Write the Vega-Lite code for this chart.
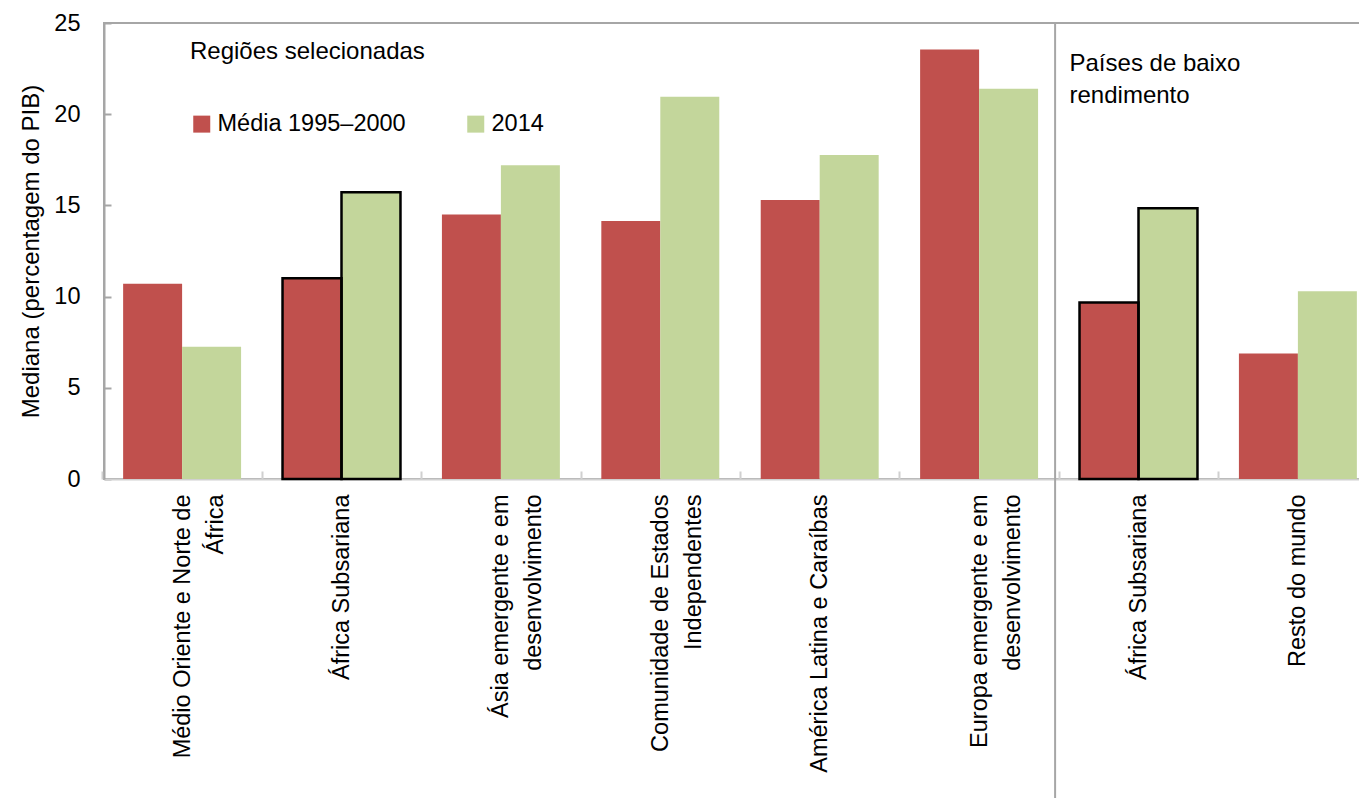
{
  "$schema": "https://vega.github.io/schema/vega-lite/v6.json",
  "width": 1257,
  "height": 456,
  "autosize": {"type": "none"},
  "padding": {"left": 104, "top": 23, "right": 0, "bottom": 319},
  "config": {
    "font": "Liberation Sans",
    "view": {"stroke": "#a6a6a6", "strokeWidth": 2}
  },
  "datasets": {
    "bars": [
      {"cat": "Médio Oriente e Norte de|África", "series": "Média 1995–2000", "value": 10.7},
      {"cat": "Médio Oriente e Norte de|África", "series": "2014", "value": 7.25},
      {"cat": "África Subsariana", "series": "Média 1995–2000", "value": 11.0},
      {"cat": "África Subsariana", "series": "2014", "value": 15.72},
      {"cat": "Ásia emergente e em|desenvolvimento", "series": "Média 1995–2000", "value": 14.5},
      {"cat": "Ásia emergente e em|desenvolvimento", "series": "2014", "value": 17.2},
      {"cat": "Comunidade de Estados|Independentes", "series": "Média 1995–2000", "value": 14.15},
      {"cat": "Comunidade de Estados|Independentes", "series": "2014", "value": 20.95},
      {"cat": "América Latina e Caraíbas", "series": "Média 1995–2000", "value": 15.3},
      {"cat": "América Latina e Caraíbas", "series": "2014", "value": 17.77},
      {"cat": "Europa emergente e em|desenvolvimento", "series": "Média 1995–2000", "value": 23.55},
      {"cat": "Europa emergente e em|desenvolvimento", "series": "2014", "value": 21.4},
      {"cat": "África Subsariana ", "series": "Média 1995–2000", "value": 9.68},
      {"cat": "África Subsariana ", "series": "2014", "value": 14.85},
      {"cat": "Resto do mundo", "series": "Média 1995–2000", "value": 6.88},
      {"cat": "Resto do mundo", "series": "2014", "value": 10.3}
    ],
    "note": [
      {"cat": "África Subsariana ", "label": "Países de baixo\nrendimento"}
    ]
  },
  "layer": [
    {
      "data": {"name": "bars"},
      "mark": {"type": "bar"},
      "encoding": {
        "x": {
          "field": "cat",
          "type": "nominal",
          "scale": {
            "domain": [
              "Médio Oriente e Norte de|África",
              "África Subsariana",
              "Ásia emergente e em|desenvolvimento",
              "Comunidade de Estados|Independentes",
              "América Latina e Caraíbas",
              "Europa emergente e em|desenvolvimento",
              "África Subsariana ",
              "Resto do mundo"
            ],
            "range": [0, 1272],
            "paddingInner": 0.26,
            "paddingOuter": 0.12
          },
          "axis": {
            "title": null,
            "labelAngle": -90,
            "labelAlign": "right",
            "labelBaseline": "middle",
            "labelExpr": "split(datum.label, '|')",
            "labelFontSize": 23.5,
            "labelLineHeight": 33,
            "labelPadding": 15,
            "labelColor": "black",
            "labelLimit": 0,
            "ticks": false,
            "bandPosition": 0,
            "tickOffset": -20.7,
            "labelOffset": 20.7,
            "grid": true,
            "gridColor": "#d0d0d0",
            "gridWidth": 2,
            "gridDash": [0, 448, 8, 2000],
            "domainColor": "#d0d0d0",
            "domainWidth": 2
          }
        },
        "xOffset": {
          "field": "series",
          "type": "nominal",
          "sort": ["Média 1995–2000", "2014"],
          "scale": {"paddingInner": 0, "paddingOuter": 0}
        },
        "y": {
          "field": "value",
          "type": "quantitative",
          "scale": {"domain": [0, 25], "nice": false},
          "axis": {
            "title": "Mediana (percentagem do PIB)",
            "values": [0, 5, 10, 15, 20, 25],
            "ticks": false,
            "grid": true,
            "gridColor": "#a6a6a6",
            "gridWidth": 2,
            "gridDash": [7, 2000],
            "labelPadding": 24,
            "domainColor": "#a6a6a6",
            "domainWidth": 2,
            "labelFontSize": 23.5,
            "labelColor": "black",
            "titleFontSize": 24,
            "titleFontWeight": "normal",
            "titleColor": "black",
            "titlePadding": 10
          }
        },
        "color": {
          "field": "series",
          "type": "nominal",
          "sort": ["Média 1995–2000", "2014"],
          "scale": {"domain": ["Média 1995–2000", "2014"], "range": ["#c0504d", "#c3d69b"]},
          "legend": {
            "title": "Regiões selecionadas",
            "orient": "none",
            "legendX": 86,
            "legendY": 17,
            "direction": "horizontal",
            "columnPadding": 58,
            "symbolType": "square",
            "symbolSize": 289,
            "symbolStrokeWidth": 0,
            "labelFontSize": 23.5,
            "labelColor": "black",
            "labelOffset": 4,
            "labelLimit": 500,
            "titleLimit": 600,
            "titleFontSize": 24,
            "titleFontWeight": "normal",
            "titleColor": "black",
            "titlePadding": 48,
            "padding": 0
          }
        }
      }
    },
    {
      "data": {"name": "bars"},
      "transform": [{"filter": "indexof(datum.cat, 'África Subsariana') >= 0"}],
      "mark": {"type": "bar", "fillOpacity": 0, "stroke": "black", "strokeWidth": 2.5},
      "encoding": {
        "x": {"field": "cat", "type": "nominal"},
        "xOffset": {"field": "series", "type": "nominal", "sort": ["Média 1995–2000", "2014"]},
        "y": {"field": "value", "type": "quantitative"}
      }
    },
    {
      "data": {"name": "note"},
      "mark": {"type": "rule", "color": "#a6a6a6", "strokeWidth": 2},
      "encoding": {
        "x": {"field": "cat", "type": "nominal", "bandPosition": -0.207},
        "y": {"datum": 25},
        "y2": {"datum": -18}
      }
    },
    {
      "data": {"name": "note"},
      "mark": {"type": "text", "align": "left", "baseline": "top", "dx": -10, "fontSize": 24, "lineHeight": 32, "lineBreak": "\n", "color": "black"},
      "encoding": {
        "x": {"field": "cat", "type": "nominal", "bandPosition": 0},
        "y": {"datum": 23.4},
        "text": {"field": "label"}
      }
    }
  ]
}
